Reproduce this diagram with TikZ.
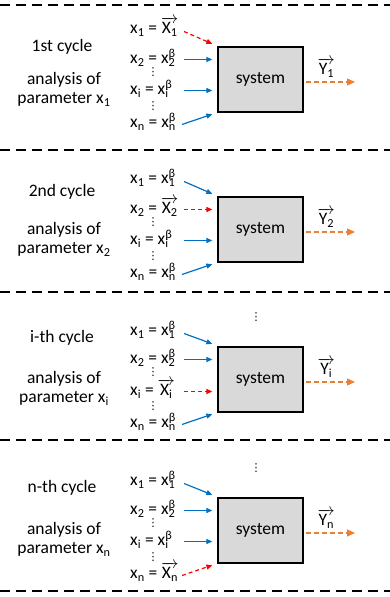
\documentclass[tikz,border=0pt]{standalone}
\usepackage{fontspec}
\setmainfont{Carlito}
\newfontfamily\symfont{DejaVu Sans}
\usetikzlibrary{arrows.meta}

\definecolor{inblue}{RGB}{0,112,192}
\definecolor{outorange}{RGB}{237,125,49}
\definecolor{boxgray}{RGB}{217,217,217}

% x_k = x_k^beta  and  x_k = vector X_k
\newcommand{\xb}[1]{x\textsubscript{#1} = x\rlap{\textsuperscript{β}}\textsubscript{#1}}
\newcommand{\xv}[1]{x\textsubscript{#1} = $\overrightarrow{\hbox{X\textsubscript{#1}}}$}
\newcommand{\yv}[1]{$\overrightarrow{\hbox{Y\textsubscript{#1}}}$}

\begin{document}
\begin{tikzpicture}[
		x=1pt, y=1pt,
		every node/.style={font=\fontsize{17.5}{20}\selectfont, inner sep=0pt},
		sysbox/.style={draw, fill=boxgray, line width=1.3pt, minimum width=85pt, minimum height=65pt},
		inlabel/.style={anchor=west, text height=12pt, text depth=4pt},
		txtlabel/.style={anchor=base},
		dotsym/.style={font=\symfont\fontsize{11}{11}\selectfont},
		fixed/.style={-{Triangle[length=6pt,width=5pt]}, inblue, line width=1.2pt},
		varied/.style={-{Triangle[length=6pt,width=5pt]}, red, line width=1.2pt, dash pattern=on 4pt off 3pt},
		result/.style={-{Triangle[length=8pt,width=7pt]}, outorange, line width=1.3pt, dash pattern=on 5pt off 3pt},
		outlabel/.style={pos=0.42, anchor=base, yshift=7.5pt, text=black},
		divider/.style={line width=1.3pt, dash pattern=on 10pt off 6pt}
		]
		
		\useasboundingbox (0,0) rectangle (390,597);
		
		% separators
		\draw[divider] (0,592) -- (390,592);
		\draw[divider] (0,447) -- (390,447);
		\draw[divider] (0,305) -- (390,305);
		\draw[divider] (0,157) -- (390,157);
		\draw[divider] (0,6) -- (390,6);
		
		% 1st cycle
		\begin{scope}[shift={(0,517.5)}]
			\node[txtlabel] (c1name) at (62,28) {1st cycle};
			\node[txtlabel] (c1ana) at (64,-5) {analysis of};
			\node[txtlabel] (c1par) at (64,-24) {parameter x\textsubscript{1}};
			\node[sysbox] (sys1) at (260.5,0) {system};
			\node[inlabel] (c1x1) at (130,50) {\xv{1}};
			\node[inlabel] (c1x2) at (130,20) {\xb{2}};
			\node[dotsym] (c1d1) at (153,7) {⋮};
			\node[inlabel] (c1xi) at (130,-11) {\xb{i}};
			\node[dotsym] (c1d2) at (153,-27) {⋮};
			\node[inlabel] (c1xn) at (130,-44) {\xb{n}};
			\coordinate (c1out) at (355,-2.5);
			\draw[varied] ([xshift=54pt,yshift=-2pt]c1x1.west) -- ([xshift=-5pt,yshift=2.5pt]sys1.north west);
			\draw[fixed, shorten >=5pt] ([xshift=54pt]c1x2.west) -- (c1x2.west -| sys1.west);
			\draw[fixed, shorten >=5pt] ([xshift=54pt]c1xi.west) -- (c1xi.west -| sys1.west);
			\draw[fixed] ([xshift=52pt,yshift=-1pt]c1xn.west) -- ([xshift=-5pt,yshift=-1.5pt]sys1.south west);
			\draw[result] ([xshift=2pt,yshift=-2.5pt]sys1.east) -- (c1out)
				node[outlabel] (c1y) {\yv{1}};
		\end{scope}
		
		% 2nd cycle
		\begin{scope}[shift={(0,367.5)}]
			\node[txtlabel] (c2name) at (62,33) {2nd cycle};
			\node[txtlabel] (c2ana) at (64,-5) {analysis of};
			\node[txtlabel] (c2par) at (64,-24) {parameter x\textsubscript{2}};
			\node[sysbox] (sys2) at (260.5,0) {system};
			\node[inlabel] (c2x1) at (130,50) {\xb{1}};
			\node[inlabel] (c2x2) at (130,20) {\xv{2}};
			\node[dotsym] (c2d1) at (153,7) {⋮};
			\node[inlabel] (c2xi) at (130,-11) {\xb{i}};
			\node[dotsym] (c2d2) at (153,-27) {⋮};
			\node[inlabel] (c2xn) at (130,-44) {\xb{n}};
			\coordinate (c2out) at (355,-2.5);
			\draw[fixed] ([xshift=54pt,yshift=-2pt]c2x1.west) -- ([xshift=-5pt,yshift=2.5pt]sys2.north west);
			\draw[varied, shorten >=5pt] ([xshift=54pt]c2x2.west) -- (c2x2.west -| sys2.west);
			\draw[fixed, shorten >=5pt] ([xshift=54pt]c2xi.west) -- (c2xi.west -| sys2.west);
			\draw[fixed] ([xshift=52pt,yshift=-1pt]c2xn.west) -- ([xshift=-5pt,yshift=-1.5pt]sys2.south west);
			\draw[result] ([xshift=2pt,yshift=-2.5pt]sys2.east) -- (c2out)
				node[outlabel] (c2y) {\yv{2}};
		\end{scope}
		
		% i-th cycle
		\begin{scope}[shift={(0,217.5)}]
			\node[txtlabel] (ciname) at (62,37) {i-th cycle};
			\node[txtlabel] (ciana) at (64,-4) {analysis of};
			\node[txtlabel] (cipar) at (64,-23) {parameter x\textsubscript{i}};
			\node[sysbox] (sysi) at (260.5,0) {system};
			\node[dotsym] (citop) at (256,62) {⋮};
			\node[inlabel] (cix1) at (130,48) {\xb{1}};
			\node[inlabel] (cix2) at (130,20) {\xb{2}};
			\node[dotsym] (cid1) at (153,7) {⋮};
			\node[inlabel] (cixi) at (130,-12) {\xv{i}};
			\node[dotsym] (cid2) at (153,-27) {⋮};
			\node[inlabel] (cixn) at (130,-44) {\xb{n}};
			\coordinate (ciout) at (355,-2.5);
			\draw[fixed] ([xshift=54pt,yshift=-2pt]cix1.west) -- ([xshift=-5pt,yshift=2.5pt]sysi.north west);
			\draw[fixed, shorten >=5pt] ([xshift=54pt]cix2.west) -- (cix2.west -| sysi.west);
			\draw[varied, shorten >=5pt] ([xshift=54pt]cixi.west) -- (cixi.west -| sysi.west);
			\draw[fixed] ([xshift=52pt,yshift=-1pt]cixn.west) -- ([xshift=-5pt,yshift=-1.5pt]sysi.south west);
			\draw[result] ([xshift=2pt,yshift=-2.5pt]sysi.east) -- (ciout)
				node[outlabel] (ciy) {\yv{i}};
		\end{scope}
		
		% n-th cycle
		\begin{scope}[shift={(0,66.5)}]
			\node[txtlabel] (cnname) at (62,37.5) {n-th cycle};
			\node[txtlabel] (cnana) at (64,-4.5) {analysis of};
			\node[txtlabel] (cnpar) at (64,-23) {parameter x\textsubscript{n}};
			\node[sysbox] (sysn) at (260.5,0) {system};
			\node[dotsym] (cntop) at (256,62) {⋮};
			\node[inlabel] (cnx1) at (130,49) {\xb{1}};
			\node[inlabel] (cnx2) at (130,20) {\xb{2}};
			\node[dotsym] (cnd1) at (153,7) {⋮};
			\node[inlabel] (cnxi) at (130,-11) {\xb{i}};
			\node[dotsym] (cnd2) at (153,-27) {⋮};
			\node[inlabel] (cnxn) at (130,-44) {\xv{n}};
			\coordinate (cnout) at (355,-2.5);
			\draw[fixed] ([xshift=54pt,yshift=-2pt]cnx1.west) -- ([xshift=-5pt,yshift=2.5pt]sysn.north west);
			\draw[fixed, shorten >=5pt] ([xshift=54pt]cnx2.west) -- (cnx2.west -| sysn.west);
			\draw[fixed, shorten >=5pt] ([xshift=54pt]cnxi.west) -- (cnxi.west -| sysn.west);
			\draw[varied] ([xshift=52pt,yshift=-1pt]cnxn.west) -- ([xshift=-5pt,yshift=-1.5pt]sysn.south west);
			\draw[result] ([xshift=2pt,yshift=-2.5pt]sysn.east) -- (cnout)
				node[outlabel] (cny) {\yv{n}};
		\end{scope}
		
	\end{tikzpicture}
\end{document}
